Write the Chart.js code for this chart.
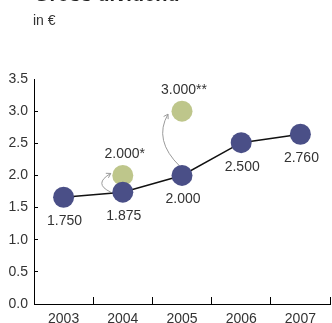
<!DOCTYPE html>
<html><head><meta charset="utf-8">
<script src="https://cdn.jsdelivr.net/npm/chart.js@4/dist/chart.umd.min.js"></script>
<style>
html,body{margin:0;padding:0;background:#fff;overflow:hidden;}
#wrap{position:relative;width:332px;height:330px;}
canvas{position:absolute;left:0;top:0;}
#title{position:absolute;left:34px;top:-16px;font:bold 20px/20px "Liberation Sans",Arial,sans-serif;color:#222;white-space:nowrap;}
#sub{position:absolute;left:33px;top:13px;font:14px/14px "Liberation Sans",Arial,sans-serif;color:#333;white-space:nowrap;}
</style></head><body>
<div id="wrap"><canvas id="c" width="332" height="330"></canvas>
<div id="title">Gross dividend</div><div id="sub">in €</div></div>
<script>
const categories = ['2003', '2004', '2005', '2006', '2007'];
const dividendValues = [1.66, 1.74, 2.0, 2.51, 2.64];
const dividendLabels = ['1.750', '1.875', '2.000', '2.500', '2.760'];
const specialValues = [null, 2.0, 3.0, null, null];
const specialLabels = [null, '2.000*', '3.000**', null, null];
const yMin = 0, yMax = 3.5, yStep = 0.5;

const FONT = '"Liberation Sans", Arial, sans-serif';
const BLUE = '#4a4f87', GREEN = '#bec68b';

function arrow(ctx, p0, c, p2) {
  ctx.beginPath();
  ctx.moveTo(p0.x, p0.y);
  ctx.quadraticCurveTo(c.x, c.y, p2.x, p2.y);
  ctx.stroke();
  const a = Math.atan2(p2.y - c.y, p2.x - c.x);
  const L = 5;
  ctx.beginPath();
  ctx.moveTo(p2.x - L * Math.cos(a - 0.55), p2.y - L * Math.sin(a - 0.55));
  ctx.lineTo(p2.x, p2.y);
  ctx.lineTo(p2.x - L * Math.cos(a + 0.55), p2.y - L * Math.sin(a + 0.55));
  ctx.stroke();
}

const annot = {
  id: 'annot',
  beforeDatasetsDraw(chart) {
    const ctx = chart.ctx;
    const b = chart.getDatasetMeta(0).data, g = chart.getDatasetMeta(1).data;
    ctx.save();
    ctx.strokeStyle = '#9a9a9a';
    ctx.lineWidth = 1;
    let B = b[1], G = g[1];
    arrow(ctx, {x: B.x - 12, y: B.y}, {x: B.x - 30, y: (B.y + G.y) / 2}, {x: G.x - 12, y: G.y - 2});
    B = b[2]; G = g[2];
    arrow(ctx, {x: B.x - 2, y: B.y - 9}, {x: B.x - 29, y: (B.y + G.y) / 2 - 3}, {x: G.x - 14, y: G.y + 3});
    ctx.restore();
  },
  afterDatasetsDraw(chart) {
    const ctx = chart.ctx;
    ctx.save();
    ctx.font = '14px ' + FONT;
    ctx.fillStyle = '#333';
    ctx.textAlign = 'center';
    ctx.textBaseline = 'middle';
    chart.getDatasetMeta(0).data.forEach((p, i) => {
      ctx.fillText(dividendLabels[i], p.x + 1, p.y + 24);
    });
    chart.getDatasetMeta(1).data.forEach((p, i) => {
      if (specialLabels[i] && specialValues[i] !== null) ctx.fillText(specialLabels[i], p.x + 2, p.y - 21);
    });
    ctx.restore();
  }
};

new Chart(document.getElementById('c'), {
  type: 'line',
  data: {
    labels: categories,
    datasets: [
      {data: dividendValues, borderColor: '#111', borderWidth: 1.5, tension: 0,
       pointRadius: 10.5, pointBackgroundColor: BLUE, pointBorderWidth: 0, order: 0},
      {data: specialValues, showLine: false, pointRadius: 10.5,
       pointBackgroundColor: GREEN, pointBorderWidth: 0, order: 1}
    ]
  },
  options: {
    responsive: false, animation: false, devicePixelRatio: 1,
    layout: {autoPadding: false, padding: {top: 79, right: 2, left: 0, bottom: 0}},
    plugins: {legend: {display: false}, tooltip: {enabled: false}},
    scales: {
      x: {
        offset: true,
        grid: {offset: true, drawOnChartArea: false, tickLength: -7, color: '#000', lineWidth: 1},
        border: {color: '#000', width: 1},
        ticks: {color: '#333', font: {size: 14, family: FONT}, padding: 14, maxRotation: 0},
        afterFit: s => { s.height = 26; s.paddingLeft = 0; s.paddingRight = 0; }
      },
      y: {
        min: yMin, max: yMax,
        grid: {drawOnChartArea: false, tickLength: -4, lineWidth: 1,
               color: c => (c.tick && c.tick.value === yMax) ? 'rgba(0,0,0,0)' : '#000'},
        border: {color: '#000', width: 1},
        ticks: {stepSize: yStep, color: '#333', font: {size: 14, family: FONT}, padding: 10,
                callback: v => Number(v).toFixed(1)},
        afterFit: s => { s.width = 34; s.paddingTop = 0; s.paddingBottom = 0; }
      }
    }
  },
  plugins: [annot]
});
</script>
</body></html>
